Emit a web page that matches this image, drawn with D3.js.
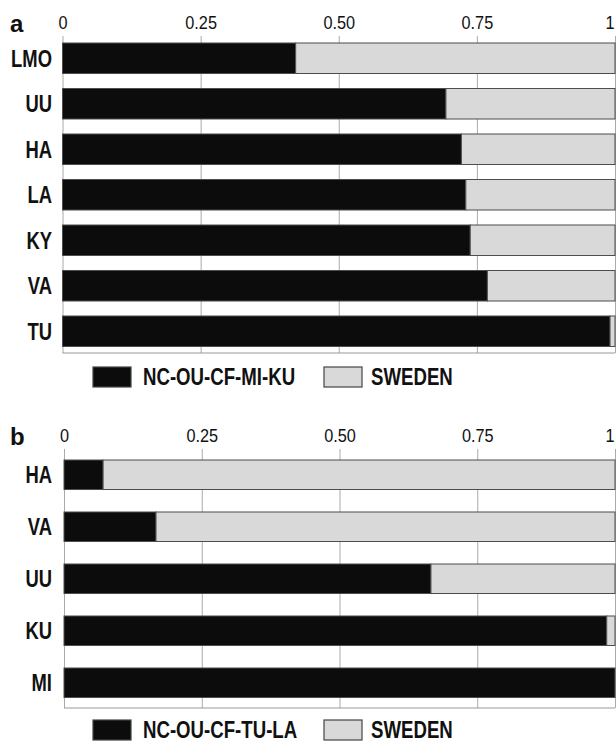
<!DOCTYPE html>
<html>
<head>
<meta charset="utf-8">
<script src="https://cdn.jsdelivr.net/npm/d3@7"></script>
<style>
  body { margin: 0; background: #fff; }
  svg { display: block; }
  text { font-family: "Liberation Sans", Arial, sans-serif; fill: #111; }
</style>
</head>
<body>
<div id="chart"></div>
<script>
// values (share of the first group, rest is SWEDEN)
const panelALabels = ["LMO", "UU", "HA", "LA", "KY", "VA", "TU"]
const panelAShare = [0.422, 0.694, 0.722, 0.730, 0.738, 0.769, 0.991]
const panelAKeys = ["NC-OU-CF-MI-KU", "SWEDEN"]

const panelBLabels = ["HA", "VA", "UU", "KU", "MI"]
const panelBShare = [0.071, 0.167, 0.666, 0.985, 1.0]
const panelBKeys = ["NC-OU-CF-TU-LA", "SWEDEN"]

const tickValues = [0, 0.25, 0.5, 0.75, 1]
const tickLabels = ["0", "0.25", "0.50", "0.75", "1"]

const colors = ["#0c0c0c", "#d9d9d9"]

const W = 616, H = 742

const svg = d3.select("#chart")
    .append("svg")
    .attr("width", W)
    .attr("height", H)

// squeeze text horizontally to mimic the narrow bold face of the original
function condense(sel, k) {
    sel.each(function () {
        const len = this.getComputedTextLength()
        d3.select(this)
            .attr("textLength", len * k)
            .attr("lengthAdjust", "spacingAndGlyphs")
    })
}

function drawPanel(cfg) {
    const { letter, labels, shares, keys, x0, x1, axisY, barTop, step, barH, plotBottom, legendY } = cfg

    const x = d3.scaleLinear().domain([0, 1]).range([x0, x1])

    const n = labels.length
    const y = d3.scaleBand()
        .domain(labels)
        .range([barTop, barTop + n * step - (step - barH)])
        .paddingInner((step - barH) / step)
        .paddingOuter(0)

    const rows = labels.map((c, i) => ({ cat: c, [keys[0]]: shares[i], [keys[1]]: 1 - shares[i] }))
    const series = d3.stack().keys(keys)(rows)

    const g = svg.append("g")

    // top axis, ticks running down as grid lines
    const axis = d3.axisTop(x)
        .tickValues(tickValues)
        .tickFormat((d, i) => tickLabels[i])
        .tickSizeInner(-(plotBottom - axisY))
        .tickSizeOuter(0)
        .tickPadding(7)

    g.append("g")
        .attr("transform", `translate(0,${axisY})`)
        .call(axis)
        .call(a => a.select(".domain").remove())
        .call(a => a.selectAll(".tick line").attr("stroke", "#aaa"))
        .call(a => a.selectAll(".tick text")
            .attr("font-size", 17.5)
            .attr("fill", "#222")
            .style("font-family", "'Liberation Sans', Arial, sans-serif")
            .call(condense, 0.93))
        .call(a => a.selectAll(".tick text")
            .filter(d => d == 1)
            .attr("text-anchor", "end")
            .attr("dx", -1))

    g.append("line")
        .attr("x1", x(0)).attr("x2", x(1))
        .attr("y1", plotBottom).attr("y2", plotBottom)
        .attr("stroke", "#999")

    g.append("g")
        .selectAll("g")
        .data(series)
        .join("g")
        .attr("fill", (d, i) => colors[i])
        .selectAll("rect")
        .data(d => d)
        .join("rect")
        .attr("x", d => x(d[0]))
        .attr("width", d => x(d[1]) - x(d[0]))
        .attr("y", d => y(d.data.cat))
        .attr("height", y.bandwidth())
        .attr("stroke", "#4d4d4d")
        .attr("stroke-width", 1)

    g.append("g")
        .selectAll("text")
        .data(labels)
        .join("text")
        .attr("x", 52)
        .attr("y", d => y(d) + y.bandwidth() / 2)
        .attr("dy", "0.36em")
        .attr("text-anchor", "end")
        .attr("font-size", 23)
        .attr("font-weight", "bold")
        .text(d => d)
        .call(condense, 0.8)

    g.append("text")
        .attr("x", 10)
        .attr("y", axisY - 4)
        .attr("font-size", 24)
        .attr("font-weight", "bold")
        .text(letter)

    // legend
    const legendX = [93, 324]
    const leg = g.append("g")
        .selectAll("g")
        .data(keys)
        .join("g")
        .attr("transform", (d, i) => `translate(${legendX[i]},${legendY})`)

    leg.append("rect")
        .attr("x", 0)
        .attr("y", -10)
        .attr("width", 38)
        .attr("height", 20)
        .attr("fill", (d, i) => colors[i])
        .attr("stroke", "#444")
        .attr("stroke-width", 1.2)

    leg.append("text")
        .attr("x", (d, i) => i == 0 ? 50 : 47)
        .attr("y", 0)
        .attr("dy", "0.36em")
        .attr("font-size", 23)
        .attr("font-weight", "bold")
        .text(d => d)
        .call(condense, 0.81)
}

drawPanel({
    letter: "a",
    labels: panelALabels,
    shares: panelAShare,
    keys: panelAKeys,
    x0: 62.5, x1: 615,
    axisY: 36,
    barTop: 43,
    step: 45.5,
    barH: 30.5,
    plotBottom: 353,
    legendY: 377
})

drawPanel({
    letter: "b",
    labels: panelBLabels,
    shares: panelBShare,
    keys: panelBKeys,
    x0: 64, x1: 615,
    axisY: 449,
    barTop: 460,
    step: 52,
    barH: 29.5,
    plotBottom: 708,
    legendY: 730
})
</script>
</body>
</html>
